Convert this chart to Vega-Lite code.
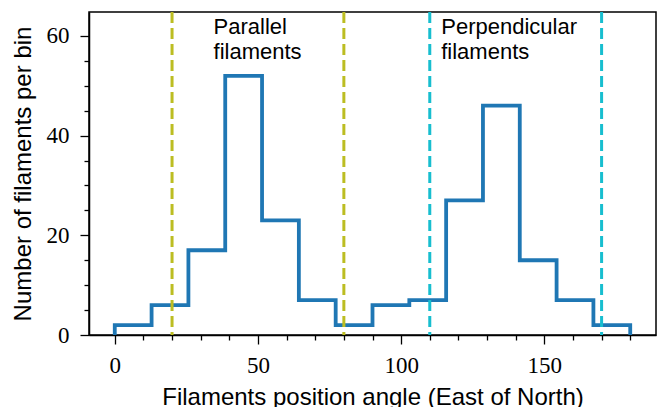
{
  "$schema": "https://vega.github.io/schema/vega-lite/v6.json",
  "width": 567,
  "height": 323,
  "autosize": "none",
  "padding": {"left": 89, "top": 12, "right": 3, "bottom": 72},
  "background": "white",
  "config": {
    "view": {"stroke": "black", "strokeWidth": 1.5},
    "axis": {
      "domainColor": "black", "domainWidth": 1.5, "tickColor": "black", "tickWidth": 1.3,
      "labelFont": "Liberation Serif", "labelFontSize": 23, "labelColor": "black",
      "titleFont": "Liberation Sans", "titleFontSize": 24, "titleFontWeight": "normal", "titleColor": "black",
      "grid": false, "labelOverlap": false, "labelFlush": false
    }
  },
  "resolve": {"axis": {"x": "independent", "y": "independent"}},
  "datasets": {
    "hist": [
      {"angle": 0, "count": 0},
      {"angle": 0, "count": 2},
      {"angle": 12.857, "count": 6},
      {"angle": 25.714, "count": 17},
      {"angle": 38.571, "count": 52},
      {"angle": 51.429, "count": 23},
      {"angle": 64.286, "count": 7},
      {"angle": 77.143, "count": 2},
      {"angle": 90, "count": 6},
      {"angle": 102.857, "count": 7},
      {"angle": 115.714, "count": 27},
      {"angle": 128.571, "count": 46},
      {"angle": 141.429, "count": 15},
      {"angle": 154.286, "count": 7},
      {"angle": 167.143, "count": 2},
      {"angle": 180, "count": 2},
      {"angle": 180, "count": 0}
    ],
    "lines": [
      {"angle": 20, "group": "par"},
      {"angle": 80, "group": "par"},
      {"angle": 110, "group": "perp"},
      {"angle": 170, "group": "perp"}
    ],
    "labels": [
      {"angle": 34.5, "y": 60.3, "text": ["Parallel", "filaments"]},
      {"angle": 114, "y": 60.3, "text": ["Perpendicular", "filaments"]}
    ]
  },
  "layer": [
    {
      "data": {"name": "hist"},
      "mark": {"type": "line", "interpolate": "step-after", "color": "#1f77b4", "strokeWidth": 3.8, "clip": true},
      "encoding": {
        "x": {
          "field": "angle", "type": "quantitative",
          "scale": {"domain": [-9, 189], "nice": false, "zero": false},
          "axis": {
            "orient": "bottom",
            "title": "Filaments position angle (East of North)",
            "values": [0, 50, 100, 150],
            "tickSize": 9,
            "labelPadding": 10,
            "titlePadding": 8
          }
        },
        "y": {
          "field": "count", "type": "quantitative",
          "scale": {"domain": [0, 64.8], "nice": false},
          "axis": {
            "orient": "left",
            "title": "Number of filaments per bin",
            "values": [0, 20, 40, 60],
            "tickSize": 9,
            "labelPadding": 11,
            "titlePadding": 11
          }
        }
      }
    },
    {
      "data": {"name": "lines"},
      "mark": {"type": "rule", "strokeWidth": 3, "strokeDash": [11, 5]},
      "encoding": {
        "x": {"field": "angle", "type": "quantitative", "axis": null},
        "color": {"field": "group", "type": "nominal", "scale": {"domain": ["par", "perp"], "range": ["#bcbd22", "#17becf"]}, "legend": null}
      }
    },
    {
      "data": {"name": "labels"},
      "mark": {"type": "text", "align": "left", "baseline": "alphabetic", "font": "Liberation Sans", "fontSize": 22, "lineHeight": 25, "color": "black"},
      "encoding": {
        "x": {
          "field": "angle", "type": "quantitative",
          "axis": {"orient": "bottom", "title": null, "labels": false, "domain": false, "tickSize": 5,
                   "values": [10,20,30,40,60,70,80,90,110,120,130,140,160,170,180]}
        },
        "y": {
          "field": "y", "type": "quantitative",
          "axis": {"orient": "left", "title": null, "labels": false, "domain": false, "tickSize": 5,
                   "values": [5,10,15,25,30,35,45,50,55]}
        },
        "text": {"field": "text"}
      }
    }
  ]
}
